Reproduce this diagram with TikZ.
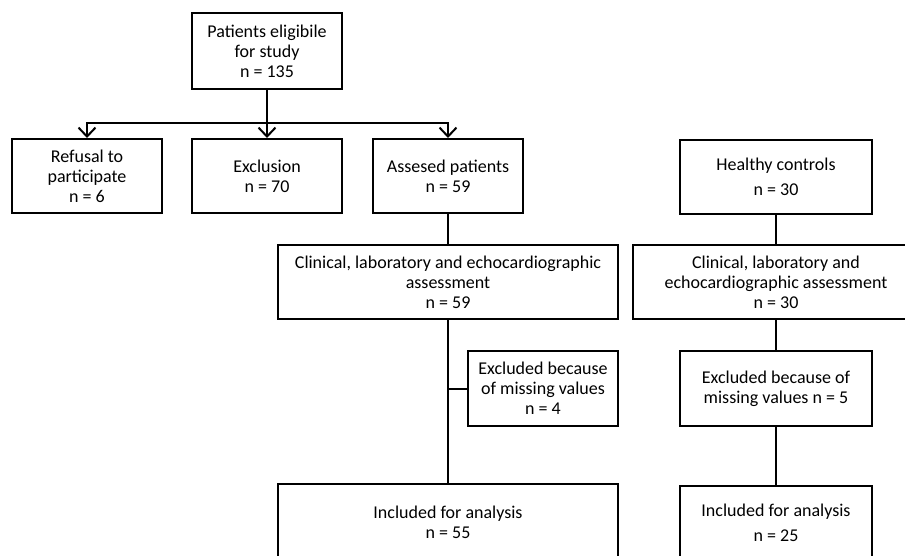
\documentclass[tikz,border=0pt]{standalone}
\usepackage{fontspec}
\setmainfont{Carlito}
\usetikzlibrary{arrows.meta}
\begin{document}
\begin{tikzpicture}[x=1pt,y=-1pt,
  box/.style={draw,line width=2pt,align=center,inner sep=2pt,
    font=\fontsize{18}{20}\selectfont},
  wide/.style={font=\fontsize{18}{25.5}\selectfont},
  conn/.style={line width=2pt},
  arr/.style={conn,-{Straight Barb[length=9pt,width=17pt]}}]
\useasboundingbox (0,0) rectangle (905,555);
\clip (0,0) rectangle (905,555);
\fill[white] (0,0) rectangle (905,555);
\node[box,minimum width=150pt,minimum height=76pt] (top) at (267,51) {Patients eligibile\\for study\\n = 135};
\node[box,minimum width=150pt,minimum height=74pt] (ref) at (87,176) {Refusal to\\participate\\n = 6};
\node[box,minimum width=150pt,minimum height=74pt] (exc) at (267,176) {Exclusion\\n = 70};
\node[box,minimum width=150pt,minimum height=74pt] (ass) at (448,176) {Assesed patients\\n = 59};
\node[box,wide,minimum width=192pt,minimum height=74pt] (hea) at (776,177) {Healthy controls\\n = 30};
\node[box,minimum width=340pt,minimum height=74pt] (clinL) at (448,282) {Clinical, laboratory and echocardiographic\\assessment\\n = 59};
\node[box,minimum width=150pt,minimum height=75pt] (exclL) at (543,388.5) {Excluded because\\of missing values\\n = 4};
\node[box,minimum width=340pt,minimum height=76pt] (inclL) at (448,522) {Included for analysis\\n = 55};
\node[box,minimum width=286pt,minimum height=74pt] (clinR) at (776,282) {Clinical, laboratory and\\echocardiographic assessment\\n = 30};
\node[box,minimum width=192pt,minimum height=75pt] (exclR) at (776,388.5) {Excluded because of\\missing values n = 5};
\node[box,wide,minimum width=192pt,minimum height=74pt] (inclR) at (776,523) {Included for analysis\\n = 25};
\coordinate (br) at (267,123);
\coordinate (jn) at (448,388.5);
\draw[conn] (top.south) -- (br);
\draw[arr] (br) -| (ref.north);
\draw[arr] (br) -- (exc.north);
\draw[arr] (br) -| (ass.north);
\draw[conn] (ass.south) -- (clinL.north);
\draw[conn] (clinL.south) -- (inclL.north);
\draw[conn] (jn) -- (exclL.west);
\draw[conn] (hea.south) -- (clinR.north);
\draw[conn] (clinR.south) -- (exclR.north);
\draw[conn] (exclR.south) -- (inclR.north);
\end{tikzpicture}
\end{document}
